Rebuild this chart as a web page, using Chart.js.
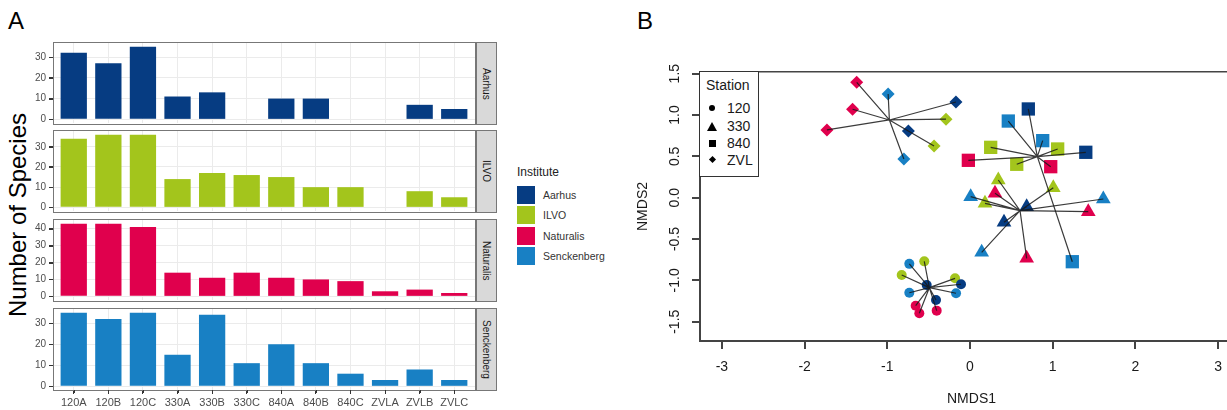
<!DOCTYPE html>
<html lang="en">
<head>
<meta charset="utf-8">
<title>Species per sample and NMDS</title>
<script src="https://cdn.jsdelivr.net/npm/chart.js"></script>
<style>
  html, body { margin: 0; padding: 0; background: #fff; overflow: hidden; }
  body { width: 1227px; height: 410px; position: relative; font-family: 'Liberation Sans', Arial, sans-serif; color: #1a1a1a; }
  canvas { position: absolute; }
  .abs { position: absolute; white-space: nowrap; }
  .panelbox { position: absolute; border: 1px solid #777; box-sizing: border-box; pointer-events: none; }
  .strip { position: absolute; background: #d9d9d9; border: 1px solid #777; box-sizing: border-box;
           display: flex; align-items: center; justify-content: center; }
  .strip span { writing-mode: vertical-rl; font-size: 10px; color: #1a1a1a; }
  .key { position: absolute; left: 517px; width: 18px; height: 18px; }
  .keylab { position: absolute; left: 543px; font-size: 10.5px; color: #333; line-height: 18px; }
  #stationLegend { position: absolute; left: 699px; top: 71px; width: 60px; height: 106px;
                   border: 1px solid #333; box-sizing: border-box; background: #fff; z-index: 2; }
  #stationLegend .t { position: absolute; left: 6px; top: 5px; font-size: 14px; }
  #stationLegend .l { position: absolute; left: 27px; font-size: 14px; line-height: 16px; }
  .sym { position: absolute; background: #000; }
  .tk { position: absolute; z-index: 1; }
</style>
</head>
<body>

<div class="abs" style="left:8px;top:7px;font-size:24px;color:#000;">A</div>
<div class="abs" style="left:637px;top:7px;font-size:24px;color:#000;">B</div>

<div class="abs" style="left:18px;top:215px;font-size:24px;color:#000;transform:translate(-50%,-50%) rotate(-90deg);">Number of Species</div>

<!-- institute legend -->
<div class="abs" style="left:517px;top:165px;font-size:12px;color:#222;">Institute</div>
<div id="instLegend"></div>

<!-- station legend for panel B -->
<div id="stationLegend">
  <div class="t">Station</div>
  <div class="sym" style="left:9px;top:33px;width:6px;height:6px;border-radius:50%;"></div>
  <div class="l" style="top:28px;">120</div>
  <div class="sym" style="left:7px;top:50px;width:0;height:0;background:none;border-left:5px solid transparent;border-right:5px solid transparent;border-bottom:9px solid #000;"></div>
  <div class="l" style="top:46px;">330</div>
  <div class="sym" style="left:9px;top:68px;width:7px;height:7px;"></div>
  <div class="l" style="top:63px;">840</div>
  <div class="sym" style="left:10px;top:85px;width:5px;height:5px;transform:rotate(45deg);"></div>
  <div class="l" style="top:80px;">ZVL</div>
</div>

<script>
// ---- panel A data: species counts per sample, one array per institute ----
const stations = ['120A', '120B', '120C', '330A', '330B', '330C', '840A', '840B', '840C', 'ZVLA', 'ZVLB', 'ZVLC'];
const institutes = ['Aarhus', 'ILVO', 'Naturalis', 'Senckenberg'];
const aarhus      = [32, 27, 35, 11, 13, null, 10, 10, null, null, 7, 5];
const ilvo        = [34, 36, 36, 14, 17, 16, 15, 10, 10, null, 8, 5];
const naturalis   = [43, 43, 41, 14, 11, 14, 11, 10, 9, 3, 4, 2];
const senckenberg = [35, 32, 35, 15, 34, 11, 20, 11, 6, 3, 8, 3];

// ---- panel B data: NMDS scores [NMDS1, NMDS2, institute] per station group ----
const st120 = [
  [-0.734, -0.800, 'Senckenberg'], [-0.553, -0.770, 'ILVO'], [-0.826, -0.935, 'ILVO'],
  [-0.524, -1.055, 'Aarhus'], [-0.181, -0.975, 'ILVO'], [-0.109, -1.047, 'Aarhus'],
  [-0.734, -1.149, 'Senckenberg'], [-0.169, -1.156, 'Senckenberg'], [-0.411, -1.237, 'Aarhus'],
  [-0.657, -1.306, 'Naturalis'], [-0.613, -1.398, 'Naturalis'], [-0.403, -1.366, 'Naturalis']
];
const st330 = [
  [0.342, 0.214, 'ILVO'], [0.302, 0.053, 'Naturalis'], [0.008, 0.012, 'Senckenberg'],
  [0.181, -0.068, 'ILVO'], [0.685, -0.109, 'Aarhus'], [1.007, 0.121, 'ILVO'],
  [1.612, -0.016, 'Senckenberg'], [1.430, -0.169, 'Naturalis'], [0.411, -0.298, 'Aarhus'],
  [0.141, -0.661, 'Senckenberg'], [0.685, -0.733, 'Naturalis']
];
const st840 = [
  [0.705, 1.073, 'Aarhus'], [0.463, 0.927, 'Senckenberg'], [0.879, 0.690, 'Senckenberg'],
  [0.250, 0.609, 'ILVO'], [1.060, 0.589, 'ILVO'], [1.400, 0.549, 'Aarhus'],
  [-0.020, 0.452, 'Naturalis'], [0.565, 0.404, 'ILVO'], [0.976, 0.375, 'Naturalis'],
  [1.237, -0.774, 'Senckenberg']
];
const stZVL = [
  [-1.370, 1.395, 'Naturalis'], [-0.990, 1.254, 'Senckenberg'], [-0.170, 1.157, 'Aarhus'],
  [-1.420, 1.069, 'Naturalis'], [-0.290, 0.950, 'ILVO'], [-1.730, 0.820, 'Naturalis'],
  [-0.745, 0.806, 'Aarhus'], [-0.435, 0.625, 'ILVO'], [-0.800, 0.468, 'Senckenberg']
];
// group centres the spider lines start from, order 120, 330, 840, ZVL
const spiderCentres = [[-0.492, -1.088], [0.605, -0.157], [0.814, 0.496], [-0.975, 0.940]];
const nmdsXLim = [-3.265, 3.301];
const nmdsYLim = [-1.733, 1.52];

// ---- styles ----
const instColors = { Aarhus: '#063c82', ILVO: '#a3c51c', Naturalis: '#e0004d', Senckenberg: '#1880c4' };
Chart.defaults.font.family = "'Liberation Sans', Arial, sans-serif";

// small tick marks for the facets, placed at the chart's own scale positions
function addTickMarks(chart, left, top, opts) {
  const a = chart.chartArea;
  opts.axes.forEach(id => {
    const s = chart.scales[id];
    s.ticks.forEach(t => {
      if (opts.keep && !opts.keep(t.value)) return;
      const p = Math.round(s.getPixelForValue(t.value));
      const d = document.createElement('div');
      d.className = 'tk';
      const st = s.isHorizontal()
        ? { left: left + p + 'px', top: top + Math.round(a.bottom) + 'px', width: '1px', height: opts.len + 'px' }
        : { left: left + Math.round(a.left) - opts.len + 'px', top: top + p + 'px', width: opts.len + 'px', height: '1px' };
      Object.assign(d.style, st, { background: opts.color });
      document.body.appendChild(d);
    });
  });
}

// institute legend keys
const legendHost = document.getElementById('instLegend');
institutes.forEach((name, i) => {
  const top = 186 + i * 20.4;
  legendHost.insertAdjacentHTML('beforeend',
    `<div class="key" style="top:${top}px;background:${instColors[name]}"></div>` +
    `<div class="keylab" style="top:${top}px">${name}</div>`);
});

// ---- panel A: one bar chart per institute (facets) ----
const series = [aarhus, ilvo, naturalis, senckenberg];
const panelTops = [42, 130, 219, 308];
const PANEL_H = 82;

series.forEach((vals, i) => {
  const last = i === series.length - 1;
  const cv = document.createElement('canvas');
  cv.width = 480;
  cv.height = last ? PANEL_H + 32 : PANEL_H + 16;
  cv.style.left = '0px';
  cv.style.top = (panelTops[i] - 8) + 'px';
  document.body.appendChild(cv);

  const box = document.createElement('div');
  box.className = 'panelbox';
  Object.assign(box.style, { left: '53px', top: panelTops[i] + 'px', width: '423px', height: (PANEL_H + 1) + 'px' });
  document.body.appendChild(box);

  const strip = document.createElement('div');
  strip.className = 'strip';
  Object.assign(strip.style, { left: '476px', top: panelTops[i] + 'px', width: '21px', height: (PANEL_H + 1) + 'px' });
  strip.innerHTML = '<span>' + institutes[i] + '</span>';
  document.body.appendChild(strip);

  const ymax = Math.max(...vals.filter(v => v !== null));
  const isMajor = c => c.tick && c.tick.value % 10 === 0;

  const chart = new Chart(cv, {
    type: 'bar',
    data: {
      datasets: [{
        data: vals.map((v, k) => v === null ? null : { x: k + 1, y: v }).filter(Boolean),
        backgroundColor: instColors[institutes[i]],
        barPercentage: 0.76,
        categoryPercentage: 1
      }]
    },
    options: {
      responsive: false,
      animation: false,
      layout: { autoPadding: false, padding: { top: 8, bottom: last ? 0 : 8, left: 0, right: 5 } },
      plugins: { legend: { display: false }, tooltip: { enabled: false } },
      scales: {
        x: {
          type: 'linear', min: 0.4, max: 12.6, offset: false,
          afterFit: s => { s.height = last ? 24 : 0; },
          ticks: {
            display: last, stepSize: 1, includeBounds: false, autoSkip: false, maxRotation: 0,
            color: '#4d4d4d', font: { size: 11 }, padding: 2,
            callback: v => stations[v - 1]
          },
          grid: { offset: false, color: '#ebebeb', drawTicks: last, tickLength: 4, tickColor: '#333' },
          border: { display: false }
        },
        y: {
          min: -0.05 * ymax, max: 1.05 * ymax,
          afterFit: s => { s.width = 53; },
          ticks: {
            stepSize: 5, includeBounds: false, color: '#4d4d4d', font: { size: 10 }, padding: 3,
            callback: v => v % 10 === 0 ? v : ''
          },
          grid: {
            color: '#ebebeb', tickLength: 4,
            lineWidth: c => isMajor(c) ? 1 : 0.5,
            tickColor: c => isMajor(c) ? '#333' : 'rgba(0,0,0,0)'
          },
          border: { display: false }
        }
      }
    }
  });
  addTickMarks(chart, 0, panelTops[i] - 8, { color: '#333', len: 4, axes: ['y'], keep: v => v % 10 === 0 });
  if (last) addTickMarks(chart, 0, panelTops[i] - 8, { color: '#333', len: 3, axes: ['x'] });
});

// ---- panel B: NMDS ordination with spider lines ----
const groups = [st120, st330, st840, stZVL];
const shapes = ['circle', 'triangle', 'rect', 'rectRot'];
const radii = [5, 8.5, 9.4, 6.5];

const spiderSets = groups.map((g, gi) => ({
  showLine: true, spanGaps: false, pointRadius: 0, order: 0,
  borderColor: 'rgba(25,25,25,0.85)', borderWidth: 1.2,
  data: g.flatMap(p => [
    { x: spiderCentres[gi][0], y: spiderCentres[gi][1] },
    { x: p[0], y: p[1] },
    { x: null, y: null }
  ])
}));
const pointSets = groups.map((g, gi) => ({
  order: 1, pointStyle: shapes[gi], pointRadius: radii[gi], borderWidth: 0,
  backgroundColor: g.map(p => instColors[p[2]]),
  data: g.map(p => ({ x: p[0], y: p[1] }))
}));

const cvB = document.createElement('canvas');
cvB.width = 615;
cvB.height = 360;
cvB.style.left = '628px';
cvB.style.top = '50px';
document.body.insertBefore(cvB, document.getElementById('stationLegend'));

const axisLine = '#444';
new Chart(cvB, {
  type: 'scatter',
  data: { datasets: [...spiderSets, ...pointSets] },
  options: {
    responsive: false,
    animation: false,
    layout: { autoPadding: false, padding: { top: 22, right: 0, left: 0, bottom: 0 } },
    plugins: { legend: { display: false }, tooltip: { enabled: false } },
    scales: {
      x: {
        type: 'linear', min: nmdsXLim[0], max: nmdsXLim[1],
        afterFit: s => { s.height = 69; },
        ticks: { stepSize: 1, includeBounds: false, maxRotation: 0, color: '#1a1a1a', font: { size: 14 }, padding: 10 },
        grid: { drawOnChartArea: false, tickLength: 8, color: axisLine, lineWidth: 2 },
        border: { color: axisLine, width: 2 },
        title: { display: true, text: 'NMDS1', color: '#1a1a1a', font: { size: 14 }, padding: { top: 0, bottom: 2 } }
      },
      xTop: {
        type: 'linear', position: 'top', display: true, min: nmdsXLim[0], max: nmdsXLim[1],
        afterFit: s => { s.height = 0; },
        ticks: { display: false }, grid: { display: false },
        border: { color: axisLine, width: 1.5 }
      },
      y: {
        type: 'linear', min: nmdsYLim[0], max: nmdsYLim[1],
        afterFit: s => { s.width = 72; },
        ticks: {
          stepSize: 0.5, includeBounds: false, minRotation: 90, maxRotation: 90, crossAlign: 'center',
          color: '#1a1a1a', font: { size: 14 }, padding: 5,
          callback: v => v.toFixed(1)
        },
        grid: { drawOnChartArea: false, tickLength: 8, color: axisLine, lineWidth: 2 },
        border: { color: axisLine, width: 2 },
        title: { display: true, text: 'NMDS2', color: '#1a1a1a', font: { size: 14 }, padding: { top: 7, bottom: 0 } }
      }
    }
  }
});
</script>
</body>
</html>
